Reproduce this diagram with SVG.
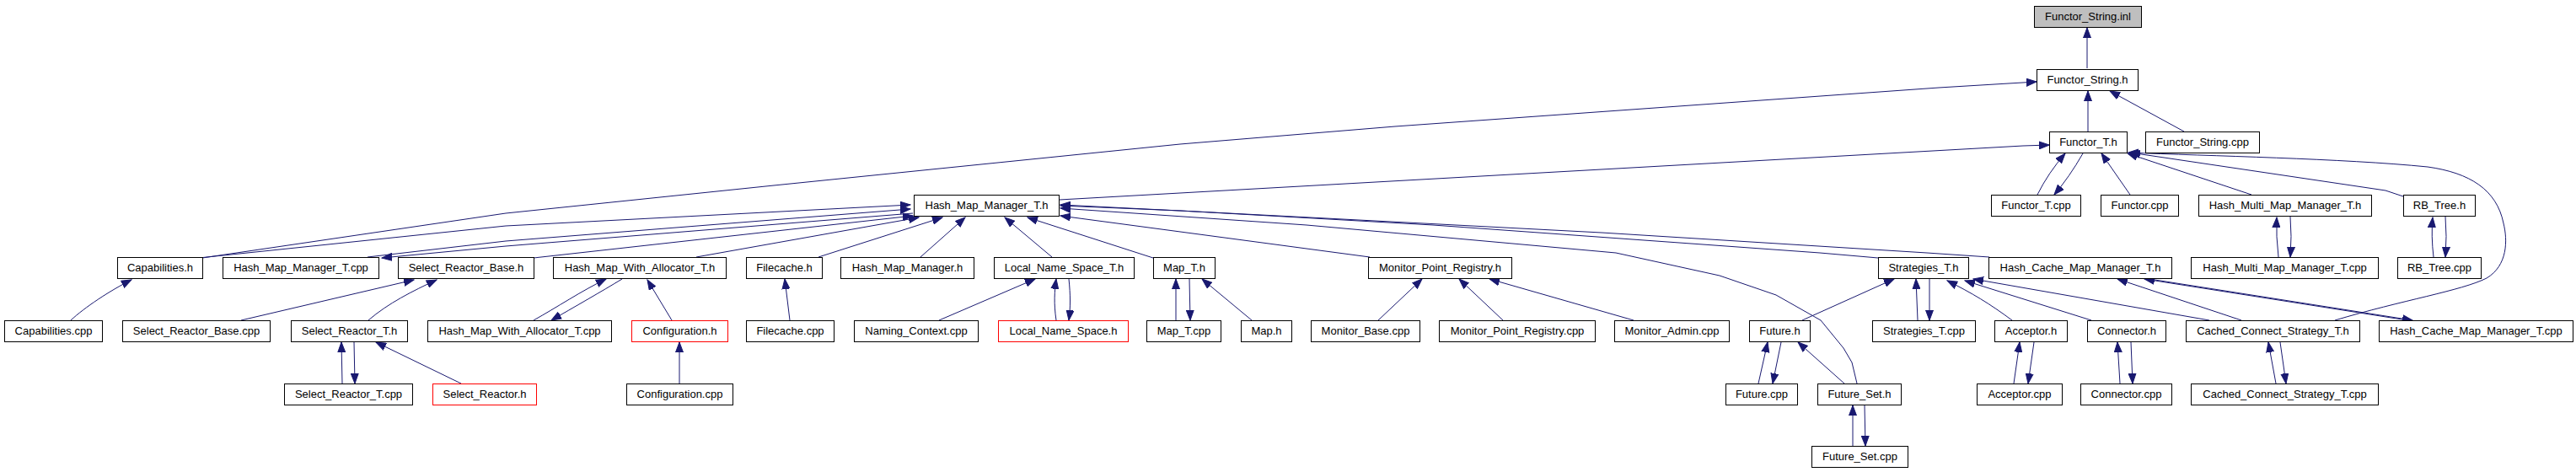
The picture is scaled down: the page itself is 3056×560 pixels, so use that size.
<svg xmlns="http://www.w3.org/2000/svg" width="3056" height="560" viewBox="0 0 3056 560">
<style>
.node rect{fill:#fff;stroke:#000;stroke-width:1}
.node.red rect{stroke:#ff0000}
.node.root rect{fill:#bfbfbf}
.node text{font-family:"Liberation Sans",Arial,sans-serif;font-size:13px;text-anchor:middle;fill:#000}
.edges path{fill:none;stroke:#191970;stroke-width:1;marker-end:url(#ah)}
</style>
<defs>
<marker id="ah" markerUnits="userSpaceOnUse" markerWidth="13" markerHeight="10" refX="12" refY="5" orient="auto">
<path d="M0,0.5 L12,5 L0,9.5 z" fill="#191970" stroke="#191970" stroke-width="1"/>
</marker>
</defs>
<rect width="3056" height="560" fill="#fff"/>
<g class="edges">
<path d="M2476,81 L2476,33"/>
<path d="M2477,156 L2477,108"/>
<path d="M2591,156 L2503,108"/>
<path d="M240,306 L600,253 L918,220 L1400,171 L1655,150 L2300,104 L2416,97"/>
<path d="M1257,237 L1400,229 L2400,173 L2431,172"/>
<path d="M2417,231 Q2430,205 2450,182"/>
<path d="M2471,182 Q2455,210 2437,231"/>
<path d="M2527,231 L2493,182"/>
<path d="M2671,231 L2524,182"/>
<path d="M2851,233 L2830,226 L2527,181"/>
<path d="M2770,380 C2850,356 2920,345 2950,330 C2975,315 2975,285 2970,265 C2962,225 2930,205 2880,198 C2780,188 2620,185 2525,181"/>
<path d="M2887,305 Q2884,280 2886,258"/>
<path d="M2901,257 Q2903,280 2901,305"/>
<path d="M2703,305 Q2700,280 2701,258"/>
<path d="M2717,257 Q2719,280 2717,305"/>
<path d="M236,306 L600,268 L1080,243"/>
<path d="M436,305 L600,286 L1080,248"/>
<path d="M1083,253 L600,292 L453,306"/>
<path d="M633,306 L1083,256"/>
<path d="M826,305 L1090,258"/>
<path d="M971,305 L1118,258"/>
<path d="M1092,305 L1145,258"/>
<path d="M1248,305 L1192,258"/>
<path d="M1368,306 L1219,258"/>
<path d="M1625,305 L1550,295 L1258,256"/>
<path d="M2228,306 L2159,300 L1700,267 L1400,250 L1258,244"/>
<path d="M2360,305 L2286,300 L1900,276 L1400,250 L1258,243"/>
<path d="M2203,455 L2197,430 L2187,413 L2160,380 L2107,350 L2040,327 L1917,300 L1550,267 L1258,247"/>
<path d="M84,380 C100,365 130,345 156,332"/>
<path d="M286,380 L491,332"/>
<path d="M437,380 C460,360 490,345 518,332"/>
<path d="M633,380 C660,365 690,345 719,331"/>
<path d="M738,331 C715,345 680,365 654,380"/>
<path d="M797,380 L768,332"/>
<path d="M937,380 L931,331"/>
<path d="M1114,380 L1228,331"/>
<path d="M1253,380 C1250,360 1251,345 1253,331"/>
<path d="M1268,331 C1270,350 1270,365 1268,380"/>
<path d="M1395,380 L1395,331"/>
<path d="M1411,331 L1412,380"/>
<path d="M1485,380 L1426,331"/>
<path d="M1635,380 L1687,331"/>
<path d="M1783,380 L1731,331"/>
<path d="M1938,380 L1767,331"/>
<path d="M2138,380 L2247,331"/>
<path d="M2275,380 L2273,331"/>
<path d="M2289,331 L2289,380"/>
<path d="M2387,380 C2360,360 2340,348 2310,333"/>
<path d="M2481,380 L2331,333"/>
<path d="M2621,380 L2341,331"/>
<path d="M2659,380 L2512,331"/>
<path d="M2856,380 L2544,331"/>
<path d="M2550,331 L2862,380"/>
<path d="M406,455 L405,406"/>
<path d="M420,406 L421,455"/>
<path d="M547,455 L446,406"/>
<path d="M806,455 L806,406"/>
<path d="M2086,455 L2097,406"/>
<path d="M2113,406 L2103,455"/>
<path d="M2188,455 L2133,406"/>
<path d="M2389,455 L2396,406"/>
<path d="M2413,406 L2406,455"/>
<path d="M2515,455 L2512,406"/>
<path d="M2528,406 L2530,455"/>
<path d="M2700,455 L2691,406"/>
<path d="M2705,406 L2712,455"/>
<path d="M2198,529 L2198,481"/>
<path d="M2212,481 L2213,529"/>
</g>
<g id="n_functor_string_inl" class="node root"><rect x="2413.5" y="7.5" width="127" height="25"/><text x="2477" y="24">Functor_String.inl</text></g>
<g id="n_functor_string_h" class="node"><rect x="2416.5" y="82.5" width="120" height="25"/><text x="2476.5" y="99">Functor_String.h</text></g>
<g id="n_functor_t_h" class="node"><rect x="2431.5" y="156.5" width="92" height="25"/><text x="2477.5" y="173">Functor_T.h</text></g>
<g id="n_functor_string_cpp" class="node"><rect x="2545.5" y="156.5" width="135" height="25"/><text x="2613" y="173">Functor_String.cpp</text></g>
<g id="n_hash_map_manager_t_h" class="node"><rect x="1084.5" y="231.5" width="172" height="25"/><text x="1170.5" y="248">Hash_Map_Manager_T.h</text></g>
<g id="n_functor_t_cpp" class="node"><rect x="2362.5" y="231.5" width="106" height="25"/><text x="2415.5" y="248">Functor_T.cpp</text></g>
<g id="n_functor_cpp" class="node"><rect x="2492.5" y="231.5" width="92" height="25"/><text x="2538.5" y="248">Functor.cpp</text></g>
<g id="n_hash_multi_map_manager_t_h" class="node"><rect x="2608.5" y="231.5" width="205" height="25"/><text x="2711" y="248">Hash_Multi_Map_Manager_T.h</text></g>
<g id="n_rb_tree_h" class="node"><rect x="2851.5" y="231.5" width="85" height="25"/><text x="2894" y="248">RB_Tree.h</text></g>
<g id="n_capabilities_h" class="node"><rect x="139.5" y="305.5" width="101" height="25"/><text x="190" y="322">Capabilities.h</text></g>
<g id="n_hash_map_manager_t_cpp" class="node"><rect x="264.5" y="305.5" width="185" height="25"/><text x="357" y="322">Hash_Map_Manager_T.cpp</text></g>
<g id="n_select_reactor_base_h" class="node"><rect x="472.5" y="305.5" width="161" height="25"/><text x="553" y="322">Select_Reactor_Base.h</text></g>
<g id="n_hash_map_with_allocator_t_h" class="node"><rect x="656.5" y="305.5" width="205" height="25"/><text x="759" y="322">Hash_Map_With_Allocator_T.h</text></g>
<g id="n_filecache_h" class="node"><rect x="885.5" y="305.5" width="90" height="25"/><text x="930.5" y="322">Filecache.h</text></g>
<g id="n_hash_map_manager_h" class="node"><rect x="997.5" y="305.5" width="158" height="25"/><text x="1076.5" y="322">Hash_Map_Manager.h</text></g>
<g id="n_local_name_space_t_h" class="node"><rect x="1179.5" y="305.5" width="166" height="25"/><text x="1262.5" y="322">Local_Name_Space_T.h</text></g>
<g id="n_map_t_h" class="node"><rect x="1368.5" y="305.5" width="73" height="25"/><text x="1405" y="322">Map_T.h</text></g>
<g id="n_monitor_point_registry_h" class="node"><rect x="1623.5" y="305.5" width="170" height="25"/><text x="1708.5" y="322">Monitor_Point_Registry.h</text></g>
<g id="n_strategies_t_h" class="node"><rect x="2228.5" y="305.5" width="107" height="25"/><text x="2282" y="322">Strategies_T.h</text></g>
<g id="n_hash_cache_map_manager_t_h" class="node"><rect x="2359.5" y="305.5" width="217" height="25"/><text x="2468" y="322">Hash_Cache_Map_Manager_T.h</text></g>
<g id="n_hash_multi_map_manager_t_cpp" class="node"><rect x="2599.5" y="305.5" width="222" height="25"/><text x="2710.5" y="322">Hash_Multi_Map_Manager_T.cpp</text></g>
<g id="n_rb_tree_cpp" class="node"><rect x="2844.5" y="305.5" width="99" height="25"/><text x="2894" y="322">RB_Tree.cpp</text></g>
<g id="n_capabilities_cpp" class="node"><rect x="5.5" y="380.5" width="116" height="25"/><text x="63.5" y="397">Capabilities.cpp</text></g>
<g id="n_select_reactor_base_cpp" class="node"><rect x="145.5" y="380.5" width="175" height="25"/><text x="233" y="397">Select_Reactor_Base.cpp</text></g>
<g id="n_select_reactor_t_h" class="node"><rect x="345.5" y="380.5" width="138" height="25"/><text x="414.5" y="397">Select_Reactor_T.h</text></g>
<g id="n_hash_map_with_allocator_t_cpp" class="node"><rect x="507.5" y="380.5" width="218" height="25"/><text x="616.5" y="397">Hash_Map_With_Allocator_T.cpp</text></g>
<g id="n_configuration_h" class="node red"><rect x="749.5" y="380.5" width="114" height="25"/><text x="806.5" y="397">Configuration.h</text></g>
<g id="n_filecache_cpp" class="node"><rect x="885.5" y="380.5" width="104" height="25"/><text x="937.5" y="397">Filecache.cpp</text></g>
<g id="n_naming_context_cpp" class="node"><rect x="1013.5" y="380.5" width="147" height="25"/><text x="1087" y="397">Naming_Context.cpp</text></g>
<g id="n_local_name_space_h" class="node red"><rect x="1184.5" y="380.5" width="154" height="25"/><text x="1261.5" y="397">Local_Name_Space.h</text></g>
<g id="n_map_t_cpp" class="node"><rect x="1360.5" y="380.5" width="88" height="25"/><text x="1404.5" y="397">Map_T.cpp</text></g>
<g id="n_map_h" class="node"><rect x="1472.5" y="380.5" width="60" height="25"/><text x="1502.5" y="397">Map.h</text></g>
<g id="n_monitor_base_cpp" class="node"><rect x="1555.5" y="380.5" width="129" height="25"/><text x="1620" y="397">Monitor_Base.cpp</text></g>
<g id="n_monitor_point_registry_cpp" class="node"><rect x="1707.5" y="380.5" width="185" height="25"/><text x="1800" y="397">Monitor_Point_Registry.cpp</text></g>
<g id="n_monitor_admin_cpp" class="node"><rect x="1915.5" y="380.5" width="136" height="25"/><text x="1983.5" y="397">Monitor_Admin.cpp</text></g>
<g id="n_future_h" class="node"><rect x="2075.5" y="380.5" width="72" height="25"/><text x="2111.5" y="397">Future.h</text></g>
<g id="n_strategies_t_cpp" class="node"><rect x="2221.5" y="380.5" width="122" height="25"/><text x="2282.5" y="397">Strategies_T.cpp</text></g>
<g id="n_acceptor_h" class="node"><rect x="2366.5" y="380.5" width="86" height="25"/><text x="2409.5" y="397">Acceptor.h</text></g>
<g id="n_connector_h" class="node"><rect x="2476.5" y="380.5" width="93" height="25"/><text x="2523" y="397">Connector.h</text></g>
<g id="n_cached_connect_strategy_t_h" class="node"><rect x="2593.5" y="380.5" width="206" height="25"/><text x="2696.5" y="397">Cached_Connect_Strategy_T.h</text></g>
<g id="n_hash_cache_map_manager_t_cpp" class="node"><rect x="2822.5" y="380.5" width="230" height="25"/><text x="2937.5" y="397">Hash_Cache_Map_Manager_T.cpp</text></g>
<g id="n_select_reactor_t_cpp" class="node"><rect x="337.5" y="455.5" width="152" height="25"/><text x="413.5" y="472">Select_Reactor_T.cpp</text></g>
<g id="n_select_reactor_h" class="node red"><rect x="513.5" y="455.5" width="123" height="25"/><text x="575" y="472">Select_Reactor.h</text></g>
<g id="n_configuration_cpp" class="node"><rect x="743.5" y="455.5" width="126" height="25"/><text x="806.5" y="472">Configuration.cpp</text></g>
<g id="n_future_cpp" class="node"><rect x="2047.5" y="455.5" width="85" height="25"/><text x="2090" y="472">Future.cpp</text></g>
<g id="n_future_set_h" class="node"><rect x="2156.5" y="455.5" width="99" height="25"/><text x="2206" y="472">Future_Set.h</text></g>
<g id="n_acceptor_cpp" class="node"><rect x="2345.5" y="455.5" width="101" height="25"/><text x="2396" y="472">Acceptor.cpp</text></g>
<g id="n_connector_cpp" class="node"><rect x="2468.5" y="455.5" width="108" height="25"/><text x="2522.5" y="472">Connector.cpp</text></g>
<g id="n_cached_connect_strategy_t_cpp" class="node"><rect x="2599.5" y="455.5" width="222" height="25"/><text x="2710.5" y="472">Cached_Connect_Strategy_T.cpp</text></g>
<g id="n_future_set_cpp" class="node"><rect x="2149.5" y="529.5" width="114" height="25"/><text x="2206.5" y="546">Future_Set.cpp</text></g>
</svg>
